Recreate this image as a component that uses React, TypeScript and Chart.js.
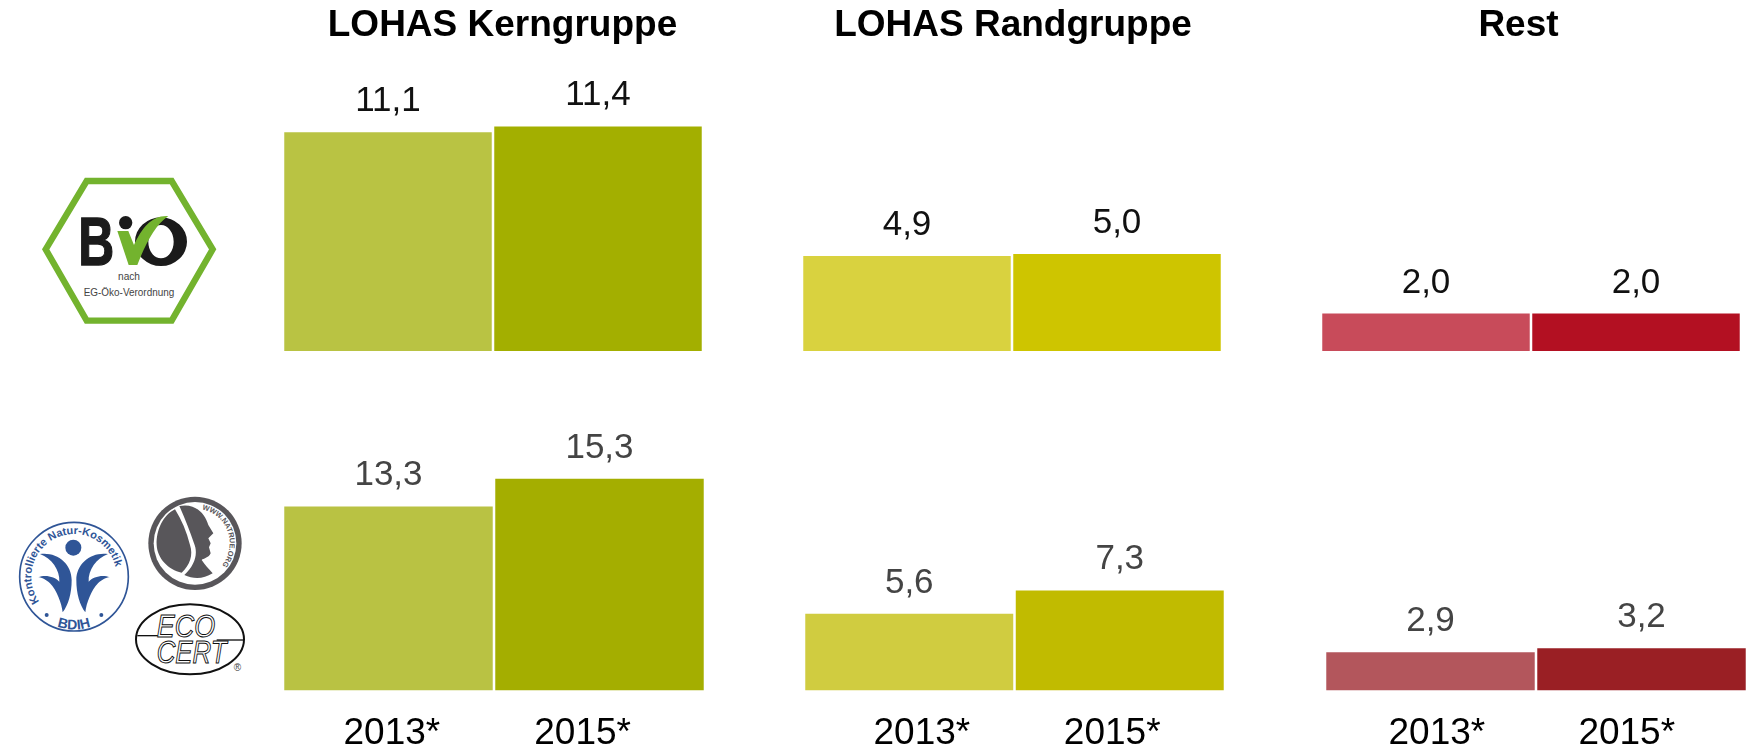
import React, { useEffect, useRef } from "react";
import { Chart, registerables } from "chart.js";

Chart.register(...registerables);

const years = ["2013*", "2015*"];
const kernBio = [11.1, 11.4];
const randBio = [4.9, 5.0];
const restBio = [2.0, 2.0];
const kernNatur = [13.3, 15.3];
const randNatur = [5.6, 7.3];
const restNatur = [2.9, 3.2];
const titles = ["LOHAS Kerngruppe", "LOHAS Randgruppe", "Rest"];

const FONT = '"Liberation Sans", Arial, sans-serif';
const VALUE_SIZE = 35;
const YEAR_SIZE = 37;
const TITLE_SIZE = 37;

type Panel = {
  values: number[];
  colors: string[];
  yMax: number;
  box: [number, number, number, number];
  title?: string;
  titleShift?: number;
  labelColor: string;
  yearTicks?: number[];
};

const panels: Panel[] = [
  { values: kernBio, colors: ["#b9c343", "#a3af00"], yMax: 15.36, box: [283, 0, 420, 351], title: titles[0], titleShift: 9.5, labelColor: "#111111" },
  { values: randBio, colors: ["#d9d23f", "#cec500"], yMax: 15.6, box: [802, 0, 420, 351], title: titles[1], titleShift: 1, labelColor: "#111111" },
  { values: restBio, colors: ["#c84b5a", "#b31022"], yMax: 16.18, box: [1321, 0, 420, 351], title: titles[2], titleShift: -12.5, labelColor: "#111111" },
  { values: kernNatur, colors: ["#b9c243", "#a4ae00"], yMax: 20.99, box: [283, 400, 422, 377], labelColor: "#444444", yearTicks: [0.258, 0.71] },
  { values: randNatur, colors: ["#d0cc40", "#c1bb00"], yMax: 21.19, box: [804, 400, 421, 377], labelColor: "#444444", yearTicks: [0.28, 0.732] },
  { values: restNatur, colors: ["#b3565c", "#9a1f24"], yMax: 21.92, box: [1325, 400, 422, 377], labelColor: "#444444", yearTicks: [0.265, 0.715] },
];

const valueLabels = {
  id: "valueLabels",
  afterDatasetsDraw(chart: any, _a: any, opts: any) {
    const ctx = chart.ctx;
    const meta = chart.getDatasetMeta(0);
    ctx.save();
    ctx.font = `${VALUE_SIZE}px ${FONT}`;
    ctx.textAlign = "center";
    ctx.textBaseline = "alphabetic";
    ctx.fillStyle = opts.color;
    meta.data.forEach((bar: any, i: number) => {
      const text = String(chart.data.datasets[0].data[i].toFixed(1)).replace(".", ",");
      ctx.fillText(text, bar.x, bar.y - 21);
    });
    ctx.restore();
  },
};

const titleShift = {
  id: "titleShift",
  afterLayout(chart: any, _a: any, opts: any) {
    if (chart.titleBlock && opts.dx) {
      chart.titleBlock.left += opts.dx;
      chart.titleBlock.right += opts.dx;
    }
  },
};

function PanelChart({ panel }: { panel: Panel }) {
  const ref = useRef<HTMLCanvasElement>(null);
  useEffect(() => {
    const scales: any = {
      x: { display: false, offset: true, grid: { display: false } },
      y: { display: false, min: 0, max: panel.yMax, grid: { display: false } },
    };
    if (panel.yearTicks) {
      const positions = panel.yearTicks;
      scales.years = {
        axis: "x",
        type: "linear",
        position: "bottom",
        offset: false,
        min: 0,
        max: 1,
        grid: { display: false, drawTicks: false },
        border: { display: false },
        afterBuildTicks: (scale: any) => {
          scale.ticks = positions.map((value) => ({ value }));
        },
        ticks: {
          autoSkip: false,
          maxRotation: 0,
          minRotation: 0,
          padding: 21,
          color: "#000000",
          font: { family: FONT, size: YEAR_SIZE },
          callback: (_v: any, i: number) => years[i],
        },
      };
    }
    const chart = new Chart(ref.current!, {
      type: "bar",
      data: {
        labels: years,
        datasets: [
          {
            data: panel.values,
            backgroundColor: panel.colors,
            borderWidth: 0,
            categoryPercentage: 1,
            barPercentage: 0.988,
          },
        ],
      },
      options: {
        responsive: false,
        animation: false,
        layout: { padding: 0 },
        scales,
        plugins: {
          legend: { display: false },
          tooltip: { enabled: false },
          title: panel.title
            ? {
                display: true,
                text: panel.title,
                color: "#000000",
                font: { family: FONT, size: TITLE_SIZE, weight: "bold" },
                padding: { top: 3.3, bottom: 0.7 },
              }
            : { display: false },
          valueLabels: { color: panel.labelColor },
          titleShift: { dx: panel.titleShift ?? 0 },
        } as any,
      },
      plugins: [valueLabels, titleShift],
    });
    return () => chart.destroy();
  }, [panel]);
  const [left, top, width, height] = panel.box;
  return (
    <canvas
      ref={ref}
      width={width}
      height={height}
      style={{ position: "absolute", left, top, width, height, display: "block" }}
    />
  );
}

function BioLogo() {
  return (
    <svg width={300} height={200} viewBox="0 0 900 600" style={{ position: "absolute", left: 0, top: 150 }}>
      <polygon points="137,298 260,93 515,93 638,298 515,512 260,512" fill="#fff" stroke="#73b32e" strokeWidth={19} />
      <text x={235} y={345} fontFamily={FONT} fontWeight="bold" fontSize={204} textLength={108} lengthAdjust="spacingAndGlyphs" fill="#1b1b1b" stroke="#1b1b1b" strokeWidth={4}>B</text>
      <path
        fillRule="evenodd"
        fill="#1b1b1b"
        d="M405,275 A78,73 0 1 1 561,275 A78,73 0 1 1 405,275 Z M445,275 A38,50 0 1 0 521,275 A38,50 0 1 0 445,275 Z"
      />
      <circle cx={377} cy={218} r={20} fill="#1b1b1b" />
      <path d="M352,243 L385,243 L402,285 C425,235 455,195 505,198 C465,225 435,285 412,345 L386,345 Z" fill="#73b32e" />
      <text x={387} y={390} textAnchor="middle" fontFamily={FONT} fontSize={34} textLength={66} lengthAdjust="spacingAndGlyphs" fill="#444">nach</text>
      <text x={387} y={438} textAnchor="middle" fontFamily={FONT} fontSize={34} textLength={272} lengthAdjust="spacingAndGlyphs" fill="#444">EG-Öko-Verordnung</text>
    </svg>
  );
}

function OtherLogos() {
  const blue = "#2f5597";
  const grey = "#58565a";
  const leaf = "M120,222 C170,215 215,250 215,300 C215,340 205,375 188,397 C185,370 170,330 150,310 C140,300 125,292 115,292 C135,283 165,290 178,305 C180,270 155,235 120,222 Z";
  return (
    <svg width={300} height={220} viewBox="0 0 900 660" style={{ position: "absolute", left: 0, top: 480 }}>
      <defs>
        <path id="bdihTop" d="M118,365 A128,128 0 1 1 326,365" />
        <path id="bdihBottom" d="M137,423 A155,155 0 0 0 307,423" />
        <path id="natrueArc" d="M186,58 A104,104 0 0 1 240,232" />
      </defs>
      {/* BDIH */}
      <circle cx={222} cy={290} r={163} fill="#fff" stroke={blue} strokeWidth={5} />
      <text fontFamily={FONT} fontWeight="bold" fontSize={33} fill={blue}>
        <textPath href="#bdihTop">Kontrollierte Natur-Kosmetik</textPath>
      </text>
      <text fontFamily={FONT} fontWeight="bold" fontSize={42} fill={blue} textAnchor="middle">
        <textPath href="#bdihBottom" startOffset="50%">BDIH</textPath>
      </text>
      <circle cx={140} cy={405} r={6} fill={blue} />
      <circle cx={304} cy={405} r={6} fill={blue} />
      <circle cx={220} cy={203} r={24} fill={blue} />
      <path d={leaf} fill={blue} />
      <path d={leaf} fill={blue} transform="translate(444,0) scale(-1,1)" />
      {/* NATRUE */}
      <g transform="translate(420,30)">
        <circle cx={165} cy={160} r={140} fill={grey} />
        <circle cx={165} cy={160} r={124} fill="#fff" />
        <path d="M105,58 C70,75 48,120 50,165 C52,205 85,240 125,248 C150,225 160,195 150,165 C140,125 125,90 105,58 Z" fill={grey} />
        <path d="M118,48 C165,38 195,70 205,105 L220,130 L205,145 L212,160 L207,172 L212,190 C205,205 190,205 185,210 C195,225 205,235 218,250 C190,268 160,268 133,255 C165,225 175,190 162,160 C150,125 135,85 118,48 Z" fill={grey} />
        <text fontFamily={FONT} fontWeight="bold" fontSize={22} fill={grey}>
          <textPath href="#natrueArc">WWW.NATRUE.ORG</textPath>
        </text>
      </g>
      {/* ECOCERT */}
      <ellipse cx={570} cy={478} rx={162} ry={105} fill="#fff" stroke="#111" strokeWidth={6} />
      <line x1={412} y1={467} x2={475} y2={467} stroke="#111" strokeWidth={4} />
      <line x1={650} y1={480} x2={730} y2={480} stroke="#111" strokeWidth={4} />
      <text x={558} y={472} textAnchor="middle" fontFamily={FONT} fontStyle="italic" fontSize={92} textLength={175} lengthAdjust="spacingAndGlyphs" fill="#fff" stroke="#111" strokeWidth={3}>ECO</text>
      <text x={575} y={550} textAnchor="middle" fontFamily={FONT} fontStyle="italic" fontSize={92} textLength={210} lengthAdjust="spacingAndGlyphs" fill="#fff" stroke="#111" strokeWidth={3}>CERT</text>
      <text x={712} y={574} textAnchor="middle" fontFamily={FONT} fontSize={30} fill="#444">®</text>
    </svg>
  );
}

export default function App() {
  return (
    <div style={{ position: "absolute", left: 0, top: 0, width: 1749, height: 748, overflow: "hidden", background: "#fff" }}>
      <BioLogo />
      <OtherLogos />
      {panels.map((p, i) => (
        <PanelChart key={i} panel={p} />
      ))}
    </div>
  );
}
